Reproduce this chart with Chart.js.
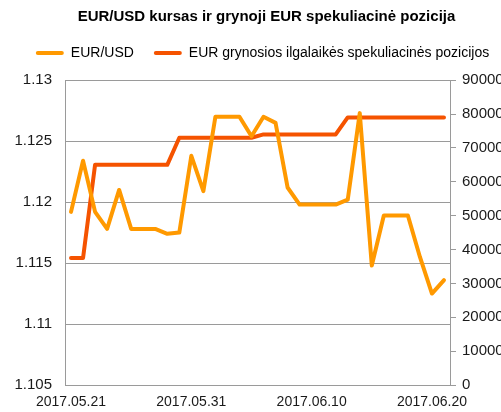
<!DOCTYPE html>
<html>
<head>
<meta charset="utf-8">
<script src="https://cdn.jsdelivr.net/npm/chart.js@4.4.0/dist/chart.umd.min.js"></script>
<style>
  html, body { margin: 0; padding: 0; background: #ffffff; }
  #wrap { width: 501px; height: 412px; }
</style>
</head>
<body>
<div id="wrap"><canvas id="c" width="501" height="412"></canvas></div>
<script>
const categories = [
  "2017.05.21","2017.05.22","2017.05.23","2017.05.24","2017.05.25","2017.05.26","2017.05.27","2017.05.28",
  "2017.05.29","2017.05.30","2017.05.31","2017.06.01","2017.06.02","2017.06.03","2017.06.04","2017.06.05",
  "2017.06.06","2017.06.07","2017.06.08","2017.06.09","2017.06.10","2017.06.11","2017.06.12","2017.06.13",
  "2017.06.14","2017.06.15","2017.06.16","2017.06.17","2017.06.18","2017.06.19","2017.06.20","2017.06.21"
];
const eurUsd = [
  1.1192, 1.1234, 1.1192, 1.1178, 1.1210, 1.1178, 1.1178, 1.1178,
  1.1174, 1.1175, 1.1238, 1.1209, 1.1270, 1.1270, 1.1270, 1.1254,
  1.1270, 1.1265, 1.1212, 1.1198, 1.1198, 1.1198, 1.1198, 1.1202,
  1.1273, 1.1148, 1.1189, 1.1189, 1.1189, 1.1155, 1.1125, 1.1136
];
const netPosition = [
  37500, 37500, 65000, 65000, 65000, 65000, 65000, 65000,
  65000, 73000, 73000, 73000, 73000, 73000, 73000, 73000,
  74000, 74000, 74000, 74000, 74000, 74000, 74000, 79000,
  79000, 79000, 79000, 79000, 79000, 79000, 79000, 79000
];
const seriesNames = ["EUR/USD", "EUR grynosios ilgalaikės spekuliacinės pozicijos"];
const titleText = "EUR/USD kursas ir grynoji EUR spekuliacinė pozicija";
const leftTicks = { min: 1.105, max: 1.13, step: 0.005 };
const rightTicks = { min: 0, max: 90000, step: 10000 };
const xLabelEvery = 10;

const FONT = "'Liberation Sans', Arial, sans-serif";
const GRID = "#9a9a9a";
const TXT = "#1a1a1a";

// nudges the title and legend horizontally to match the reference placement
const shiftPlugin = {
  id: 'shiftBlocks',
  afterLayout(chart) {
    const t = chart.titleBlock;
    if (t) { t.left += 32; }
    const l = chart.legend;
    if (l) { l.left += 12; l.right += 12; }
  }
};

new Chart(document.getElementById('c'), {
  type: 'line',
  data: {
    labels: categories,
    datasets: [
      {
        label: seriesNames[0],
        data: eurUsd,
        yAxisID: 'yL',
        borderColor: '#ff9900',
        backgroundColor: '#ff9900',
        borderWidth: 4,
        pointRadius: 0,
        tension: 0,
        borderCapStyle: 'round',
        borderJoinStyle: 'round'
      },
      {
        label: seriesNames[1],
        data: netPosition,
        yAxisID: 'yR',
        borderColor: '#f55300',
        backgroundColor: '#f55300',
        borderWidth: 4,
        pointRadius: 0,
        tension: 0,
        borderCapStyle: 'round',
        borderJoinStyle: 'round'
      }
    ]
  },
  plugins: [shiftPlugin],
  options: {
    responsive: false,
    animation: false,
    devicePixelRatio: 1,
    layout: { padding: 0 },
    plugins: {
      title: {
        display: true,
        text: titleText,
        color: '#000',
        font: { family: FONT, size: 15, weight: 'bold' },
        padding: { top: 8, bottom: 0 }
      },
      subtitle: {
        display: true,
        text: '',
        weight: 500,
        font: { family: FONT, size: 1 },
        padding: { top: 9, bottom: 0 }
      },
      legend: {
        display: true,
        position: 'top',
        labels: {
          color: TXT,
          font: { family: FONT, size: 14 },
          boxWidth: 28,
          boxHeight: 4,
          padding: 20,
          useBorderRadius: true,
          borderRadius: 2,
          generateLabels(chart) {
            return chart.data.datasets.map((d, i) => ({
              text: d.label,
              fillStyle: d.borderColor,
              strokeStyle: d.borderColor,
              lineWidth: 0,
              borderRadius: 2,
              hidden: false,
              datasetIndex: i
            }));
          }
        }
      },
      tooltip: { enabled: false }
    },
    scales: {
      x: {
        type: 'category',
        offset: true,
        grid: { display: true, drawOnChartArea: false, drawTicks: false },
        border: { display: true, color: GRID, width: 1 },
        ticks: {
          autoSkip: false,
          maxRotation: 0,
          minRotation: 0,
          padding: 9,
          color: TXT,
          font: { family: FONT, size: 14 },
          callback(v, i) { return i % xLabelEvery === 0 ? categories[i] : ''; }
        },
        afterFit(s) { s.height = 27; }
      },
      yL: {
        type: 'linear',
        position: 'left',
        min: leftTicks.min,
        max: leftTicks.max,
        grid: { color: GRID, lineWidth: 1, drawTicks: false },
        border: { display: true, color: GRID, width: 1 },
        ticks: {
          stepSize: leftTicks.step,
          padding: 13,
          color: TXT,
          font: { family: FONT, size: 15 },
          callback(v) { return String(+Number(v).toFixed(3)); }
        },
        afterFit(s) { s.width = 65; }
      },
      yR: {
        type: 'linear',
        position: 'right',
        min: rightTicks.min,
        max: rightTicks.max,
        grid: { drawOnChartArea: false, drawTicks: true, tickLength: 6, color: GRID },
        border: { display: true, color: GRID, width: 1 },
        ticks: {
          stepSize: rightTicks.step,
          padding: 6,
          color: TXT,
          font: { family: FONT, size: 15 },
          callback(v) { return String(v); }
        },
        afterFit(s) { s.width = 51; }
      }
    }
  }
});
</script>
</body>
</html>
